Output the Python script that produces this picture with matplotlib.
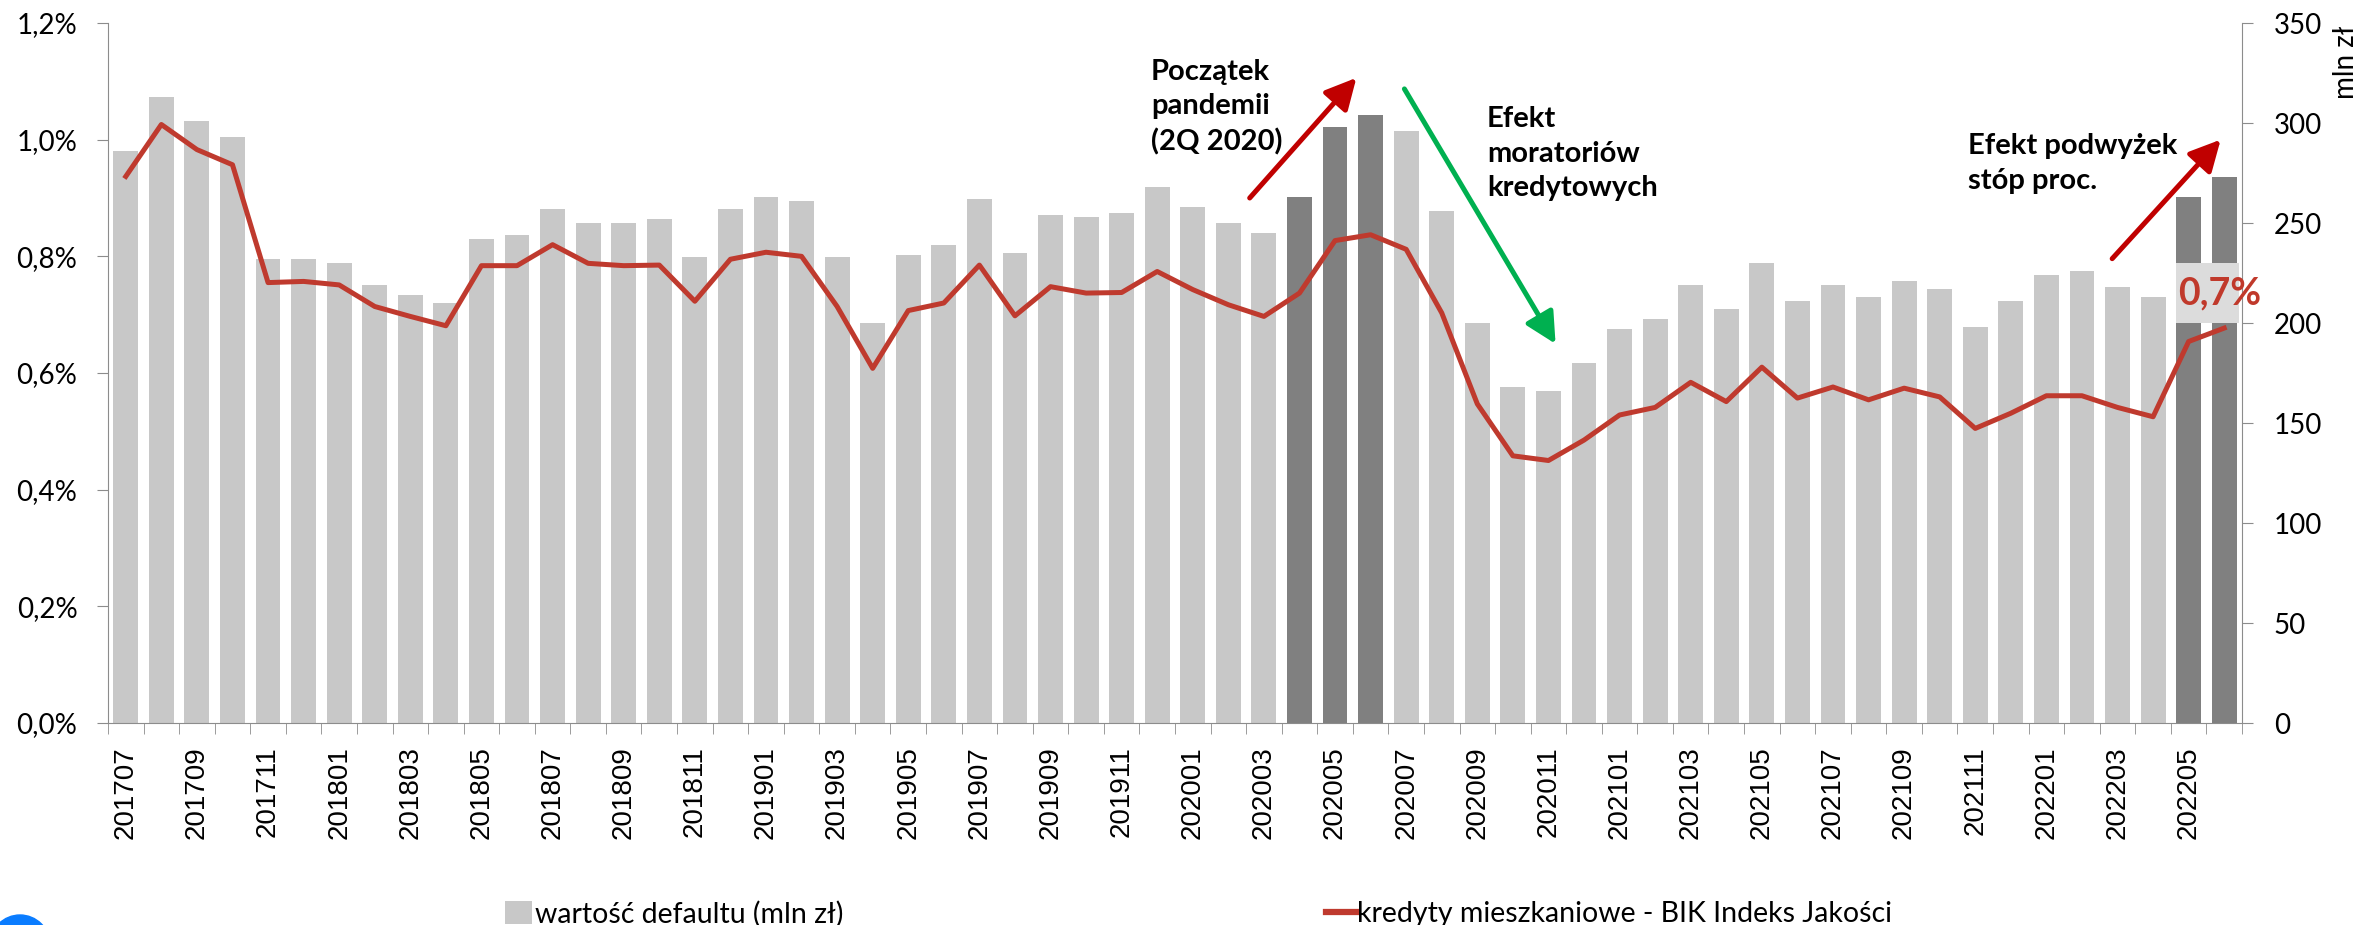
import numpy as np
import matplotlib
matplotlib.use("Agg")
import matplotlib.pyplot as plt
from matplotlib.patches import Patch, Rectangle, Circle
from matplotlib.lines import Line2D
from matplotlib.ticker import FixedLocator, FuncFormatter

# months 201707 .. 202206
months = [f"{y}{m:02d}" for y in range(2017, 2023) for m in range(1, 13)]
months = months[6:66]

# default value (mln zl), right axis
default_value = [
    286, 313, 301, 293, 232, 232, 230, 219, 214, 210, 242, 244,
    257, 250, 250, 252, 233, 257, 263, 261, 233, 200, 234, 239,
    262, 235, 254, 253, 255, 268, 258, 250, 245, 263, 298, 304,
    296, 256, 200, 168, 166, 180, 197, 202, 219, 207, 230, 211,
    219, 213, 221, 217, 198, 211, 224, 226, 218, 213, 263, 273,
]

# BIK quality index for mortgages (%), left axis
quality_index = [
    0.937, 1.026, 0.983, 0.957, 0.755, 0.757, 0.751, 0.714, 0.697, 0.681,
    0.784, 0.784, 0.820, 0.788, 0.784, 0.785, 0.723, 0.795, 0.807, 0.800,
    0.714, 0.608, 0.707, 0.720, 0.785, 0.698, 0.748, 0.737, 0.738, 0.774,
    0.743, 0.717, 0.697, 0.737, 0.827, 0.837, 0.812, 0.703, 0.547, 0.458,
    0.450, 0.485, 0.528, 0.541, 0.584, 0.551, 0.610, 0.557, 0.576, 0.554,
    0.574, 0.559, 0.505, 0.531, 0.561, 0.561, 0.541, 0.525, 0.654, 0.677,
]

highlighted = ["202004", "202005", "202006", "202205", "202206"]

LIGHT = "#C8C8C8"
DARK = "#808080"
RED_LINE = "#BF3A2E"
AXIS_GREY = "#8C8C8C"

W, H = 2359, 925
fig = plt.figure(figsize=(W / 100, H / 100), dpi=100)

# axes box in pixels: left 108, right 2242, top 23, bottom 723
ax = fig.add_axes([108 / W, (H - 723) / H, (2242 - 108) / W, (723 - 23) / H])
ax2 = ax.twinx()

x = np.arange(len(months))
colors = [DARK if m in highlighted else LIGHT for m in months]
ax2.bar(x, default_value, width=0.7, color=colors, zorder=1)
ax2.set_ylim(0, 350)

ax.set_zorder(ax2.get_zorder() + 1)
ax.patch.set_visible(False)
ax.plot(x, quality_index, color=RED_LINE, lw=3.6, zorder=3)
ax.set_xlim(-0.5, len(months) - 0.5)
ax.set_ylim(0, 1.2)

# spines
for s in ["top", "right"]:
    ax.spines[s].set_visible(False)
for s in ["top", "left", "bottom"]:
    ax2.spines[s].set_visible(False)
for s in ["left", "bottom"]:
    ax.spines[s].set_color(AXIS_GREY)
ax2.spines["right"].set_color(AXIS_GREY)

# y axes
ax.set_yticks(np.arange(0, 1.21, 0.2))
ax.yaxis.set_major_formatter(FuncFormatter(lambda v, p: f"{v:.1f}%".replace(".", ",")))
ax.tick_params(axis="y", length=8, color=AXIS_GREY, pad=14)
for lbl in ax.get_yticklabels():
    lbl.set_fontfamily("Lato")
    lbl.set_fontsize(20)

ax2.set_yticks(np.arange(0, 351, 50))
ax2.tick_params(axis="y", length=8, color=AXIS_GREY, pad=15)
for lbl in ax2.get_yticklabels():
    lbl.set_fontfamily("Lato")
    lbl.set_fontsize(20)

fig.text(2346 / W, (H - 62) / H, "mln zł", rotation=90, ha="center", va="center",
         fontfamily="Lato", fontsize=20)

# x axis: labels every second month, tick marks between every bar
ax.xaxis.set_major_locator(FixedLocator(x[::2]))
ax.set_xticklabels(months[::2], rotation=90, fontfamily="Liberation Sans", fontsize=20)
ax.xaxis.set_minor_locator(FixedLocator(np.arange(-0.5, len(months), 1)))
ax.tick_params(axis="x", which="major", length=0, pad=17)
ax.tick_params(axis="x", which="minor", length=8, color=AXIS_GREY)


# annotation helpers (data coords of left axis)
def arrow(start, end, color):
    ax.annotate("", xy=end, xytext=start, xycoords="data", textcoords="data",
                arrowprops=dict(arrowstyle="-|>,head_length=0.55,head_width=0.28",
                                color=color, lw=3.6, mutation_scale=34,
                                shrinkA=0, shrinkB=0), zorder=5)


arrow((31.6, 0.900), (34.6, 1.106), "#C00000")
arrow((35.95, 1.087), (40.2, 0.650), "#00B050")
arrow((55.85, 0.796), (58.9, 1.000), "#C00000")

note_font = dict(fontfamily="Lato", fontweight="bold", fontsize=21, color="black",
                 linespacing=1.4, ha="left", va="center")
ax.text(28.82, 1.056, "Początek\npandemii\n(2Q 2020)", **note_font)
ax.text(38.27, 0.976, "Efekt\nmoratoriów\nkredytowych", **note_font)
ax.text(51.79, 0.959, "Efekt podwyżek\nstóp proc.", **note_font)

# last value label with its light box
ax.add_patch(Rectangle((57.64, 0.686), 1.77, 0.103, facecolor="#DCDCDC",
                       edgecolor="none", zorder=4))
ax.text(58.88, 0.736, "0,7%", color="#C0392B", fontfamily="Lato",
        fontweight="bold", fontsize=27, ha="center", va="center", zorder=6)

# legend
leg_font = {"family": "Lato", "size": 20.5}
fig.legend(handles=[Patch(facecolor=LIGHT, label="wartość defaultu (mln zł)")],
           loc="center left", bbox_to_anchor=(505 / W, 11 / H), frameon=False,
           borderpad=0, borderaxespad=0, handlelength=0.95, handleheight=0.85,
           handletextpad=0.1, prop=leg_font)
fig.legend(handles=[Line2D([], [], color=RED_LINE, lw=4.5,
                           label="kredyty mieszkaniowe - BIK Indeks Jakości")],
           loc="center left", bbox_to_anchor=(1326 / W, 11 / H), frameon=False,
           borderpad=0, borderaxespad=0, handlelength=1.05,
           handletextpad=0.05, prop=leg_font)

# partial logo in the corner
fig.patches.append(Circle((0.2, -0.2), 0.3, transform=fig.dpi_scale_trans,
                          color="#0A7CFF"))

fig.savefig("out.png", dpi=100)
